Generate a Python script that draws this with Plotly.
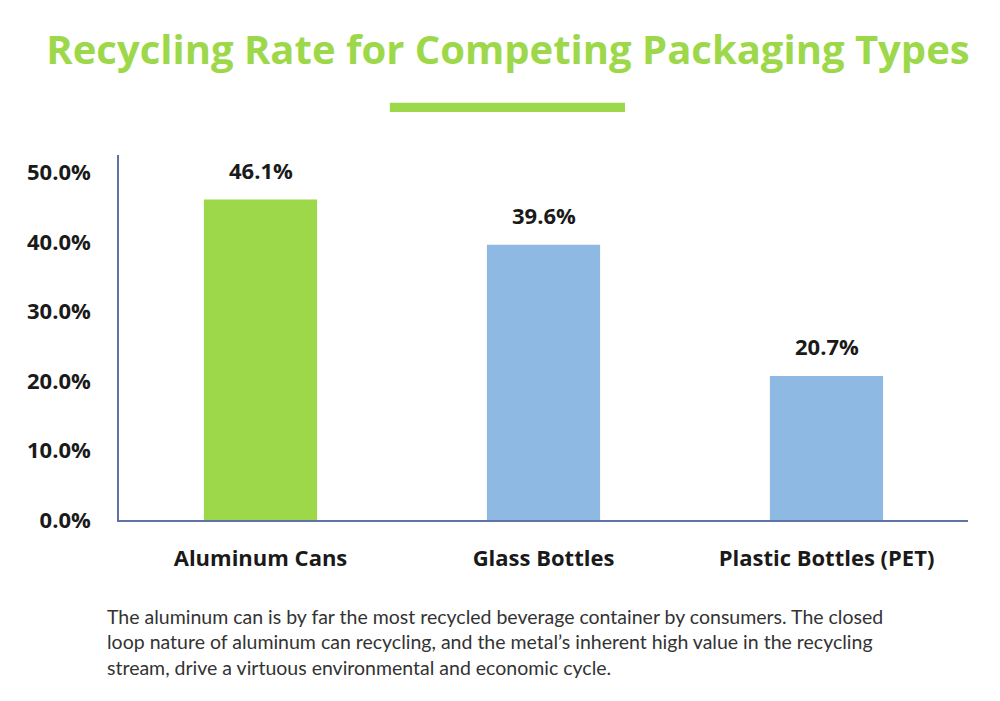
import plotly.graph_objects as go

# data
categories = ['Aluminum Cans', 'Glass Bottles', 'Plastic Bottles (PET)']
rates = [46.1, 39.6, 20.7]
bar_colors = ['#9dd84b', '#8db9e2', '#8db9e2']
tick_vals = [0, 10, 20, 30, 40, 50]
tick_text = [f'{v:.1f}%' for v in tick_vals]

title_text = 'Recycling Rate for Competing Packaging Types'
caption = ('The aluminum can is by far the most recycled beverage container by consumers. The closed<br>'
           'loop nature of aluminum can recycling, and the metal\u2019s inherent high value in the recycling<br>'
           'stream, drive a virtuous environmental and economic cycle.')

label_font = dict(family='Open Sans', size=22, color='#1a1a1a', weight='bold')

fig = go.Figure(go.Bar(x=categories, y=rates, marker_color=bar_colors,
                       marker_line_width=0, width=0.4))

# value labels above bars
for c, v in zip(categories, rates):
    fig.add_annotation(x=c, y=v, text=f'{v:.1f}%', showarrow=False,
                       yanchor='bottom', yshift=13, font=label_font)

# caption below
fig.add_annotation(xref='paper', yref='paper', x=-0.016, y=-0.228,
                   xanchor='left', yanchor='top', align='left', showarrow=False,
                   text=caption,
                   font=dict(family='Lato', size=19.5, color='#333333'))

# green underline under the title
fig.add_shape(type='rect', xref='paper', yref='paper', x0=0.319, x1=0.596,
              y0=1.118, y1=1.143, fillcolor='#9dd84b', line_width=0)

fig.update_layout(
    width=1000, height=701,
    margin=dict(l=111, r=40, t=147, b=189),
    paper_bgcolor='white', plot_bgcolor='white',
    showlegend=False,
    title=dict(text=title_text, xref='container', x=0.5, y=0.94,
               xanchor='center', yanchor='middle',
               font=dict(family='Open Sans', size=40, color='#9dd84b', weight='bold')),
)
fig.update_yaxes(range=[0, 52.5], tickvals=tick_vals, ticktext=tick_text,
                 showgrid=False, zeroline=False, showline=True, linecolor='#5f72a3',
                 linewidth=1.5, ticks='', ticklabelstandoff=22, tickfont=label_font)
fig.update_xaxes(showgrid=False, showline=True, linecolor='#5f72a3', linewidth=1.5,
                 ticks='', ticklabelstandoff=18, tickfont=label_font)

fig.write_html('out.html')
